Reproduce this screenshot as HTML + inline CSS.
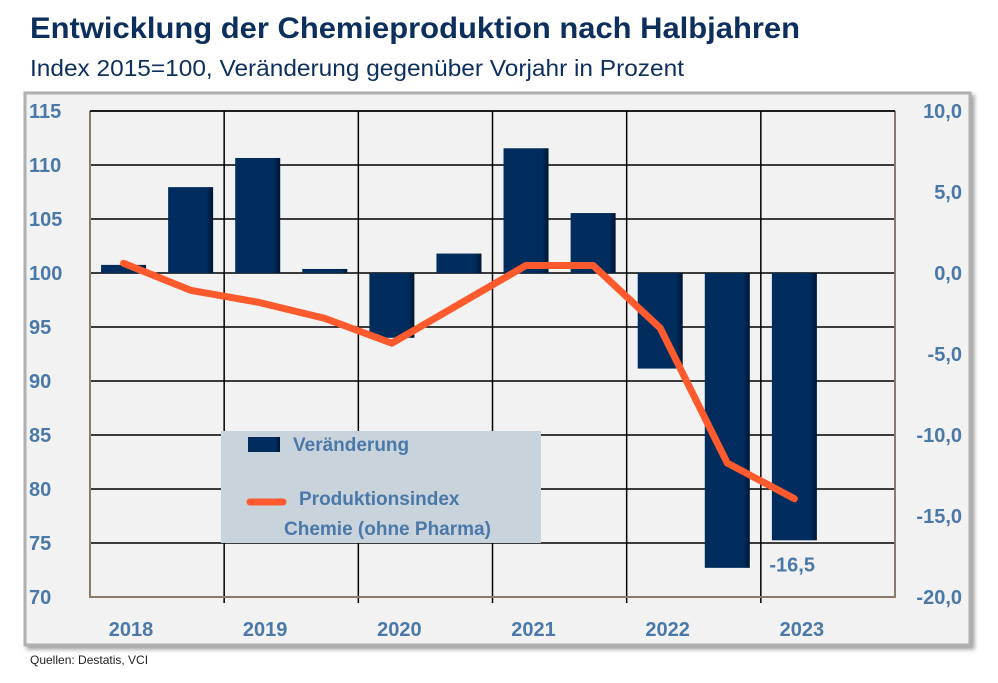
<!DOCTYPE html>
<html><head><meta charset="utf-8"><style>
body{margin:0;width:998px;height:678px;background:#fff;overflow:hidden;font-family:"Liberation Sans",sans-serif}
</style></head><body>
<svg width="998" height="678" xmlns="http://www.w3.org/2000/svg" id="svg">
<defs>
<linearGradient id="bg" x1="0" x2="1"><stop offset="0" stop-color="#002d5e"/><stop offset="0.85" stop-color="#002d5e"/><stop offset="1" stop-color="#001530"/></linearGradient>
<filter id="sh"><feDropShadow dx="3" dy="3" stdDeviation="2" flood-color="#888" flood-opacity="0.8"/></filter>
</defs>
<text x="30" y="38" font-size="30" font-weight="bold" fill="#0d2f5c" textLength="770" lengthAdjust="spacingAndGlyphs">Entwicklung der Chemieproduktion nach Halbjahren</text>
<text x="30" y="76" font-size="23" fill="#0d2f5c" textLength="654" lengthAdjust="spacingAndGlyphs">Index 2015=100, Veränderung gegenüber Vorjahr in Prozent</text>
<rect x="25" y="93" width="945" height="552" fill="#f2f2f2" stroke="#b0b0b0" stroke-width="3" filter="url(#sh)"/>
<g id="grid"></g>
<g id="bars"></g>
<g id="line"></g>
<g id="axes"></g>
<rect x="221" y="431" width="320" height="112" fill="#c9d3dc"/>
<rect x="248" y="437" width="32" height="15" fill="url(#bg)"/>
<text x="293" y="451" font-size="19" font-weight="bold" fill="#4a78a8">Veränderung</text>
<line x1="250" y1="502" x2="283" y2="502" stroke="#ff5a2e" stroke-width="7" stroke-linecap="round"/>
<text x="299" y="505" font-size="19" font-weight="bold" fill="#4a78a8">Produktionsindex</text>
<text x="284" y="535" font-size="19" font-weight="bold" fill="#4a78a8">Chemie (ohne Pharma)</text>
<text x="30" y="664" font-size="12" fill="#222">Quellen: Destatis, VCI</text>
</svg>
<script>
const years=["2018","2019","2020","2021","2022","2023"];
const change=[0.5,5.3,7.1,0.25,-4.0,1.2,7.7,3.7,-5.9,-18.2,-16.5];
const index=[100.9,98.4,97.3,95.8,93.5,97.1,100.7,100.7,94.9,82.4,79.1];
const leftTicks=[70,75,80,85,90,95,100,105,110,115];
const rightTicks=[-20,-15,-10,-5,0,5,10];
const rightLabels=["-20,0","-15,0","-10,0","-5,0","0,0","5,0","10,0"];
const X0=90,X1=895,Y0=111,Y1=597;
const yL=v=>Y1-(v-70)/(45)*(Y1-Y0);
const yR=v=>Y1-(v+20)/30*(Y1-Y0);
const slot=(X1-X0)/12;
const xc=i=>X0+slot*(i+0.5);
const NS="http://www.w3.org/2000/svg";
function mk(p,t,a){const e=document.createElementNS(NS,t);for(const k in a)e.setAttribute(k,a[k]);document.getElementById(p).appendChild(e);return e;}
leftTicks.forEach(v=>{if(v>70){const l=mk('grid','line',{x1:X0,x2:X1,y1:yL(v),y2:yL(v),stroke:'#000','stroke-width':1.5});

}
const t=mk('axes','text',{x:29,y:yL(v)+7,'font-size':20,'font-weight':'bold',fill:'#4a78a8'});t.textContent=v;

});
years.forEach((y,i)=>{const x=X0+slot*2*i;if(i>0){const l=mk('grid','line',{x1:x,x2:x,y1:Y0,y2:Y1+6,stroke:'#000','stroke-width':1.5});

}
const t=mk('axes','text',{x:x+41,y:636,'font-size':20,'font-weight':'bold',fill:'#4a78a8','text-anchor':'middle'});t.textContent=y;

});
rightTicks.forEach((v,i)=>{const t=mk('axes','text',{x:962,y:yR(v)+7,'font-size':20,'font-weight':'bold',fill:'#4a78a8','text-anchor':'end'});t.textContent=rightLabels[i];

});
const ax=mk('axes','path',{d:`M${X0},${Y0}V${Y1}H${X1}V${Y0}`,fill:'none',stroke:'#8a7a6a','stroke-width':2});


const tp=mk('axes','line',{x1:X0,x2:X1,y1:Y0,y2:Y0,stroke:'#000','stroke-width':1.5});


change.forEach((v,i)=>{const y0=yR(0),y=yR(v);const r=mk('bars','rect',{x:xc(i)-22.5,y:Math.min(y,y0),width:45,height:Math.max(2,Math.abs(y-y0)),fill:'url(#bg)'});

});
const li=change.length-1;
const lab=mk('bars','text',{x:xc(li)-25,y:yR(change[li])+31,'font-size':20,'font-weight':'bold',fill:'#4a78a8'});
lab.textContent=change[li].toFixed(1).replace('.',',');


const pl=mk('line','polyline',{points:index.map((v,i)=>xc(i)+','+yL(v)).join(' '),fill:'none',stroke:'#ff5a2e','stroke-width':7,'stroke-linecap':'round','stroke-linejoin':'round'});


</script>
</body></html>
